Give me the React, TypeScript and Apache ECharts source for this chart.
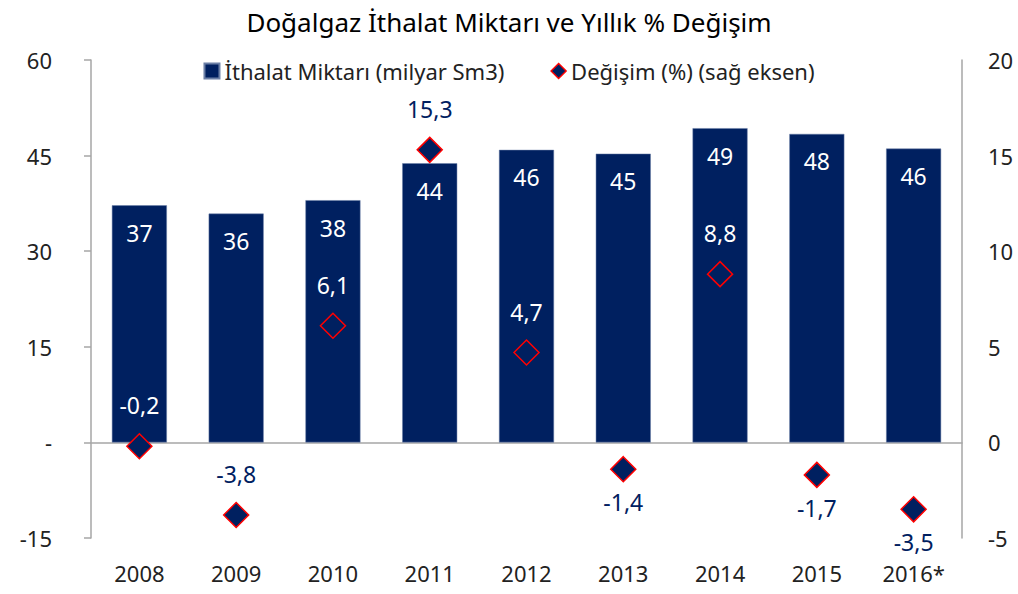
import React, { useEffect, useRef } from "react";
import * as echarts from "echarts";

const years = ["2008", "2009", "2010", "2011", "2012", "2013", "2014", "2015", "2016*"];
const imports = [37.2, 35.9, 38.0, 43.8, 45.9, 45.3, 49.3, 48.4, 46.1];
const changes = [-0.2, -3.8, 6.1, 15.3, 4.7, -1.4, 8.8, -1.7, -3.5];
const changeLabelPos = ["top", "top", "top", "top", "top", "bottom", "top", "bottom", "bottom"];
const changeLabelOnBar = [true, false, true, false, true, false, true, false, false];
const leftTicks = [-15, 0, 15, 30, 45, 60];
const rightTicks = [-5, 0, 5, 10, 15, 20];

const NAVY = "#002060";
const FONT = "'Noto Sans', sans-serif";

export default function App() {
  const ref = useRef<HTMLDivElement>(null);
  useEffect(() => {
    const chart = echarts.init(ref.current!, null, { renderer: "svg" });
    chart.setOption({
      animation: false,
      title: {
        text: "Doğalgaz İthalat Miktarı ve Yıllık % Değişim",
        left: "center",
        top: 4,
        textStyle: { fontFamily: FONT, fontSize: 26, fontWeight: "normal", color: "#000" },
      },
      legend: {
        top: 55,
        left: "center",
        itemGap: 46,
        itemWidth: 15,
        itemHeight: 15,
        textStyle: { fontFamily: FONT, fontSize: 22, color: "#222" },
        data: [
          { name: "İthalat Miktarı (milyar Sm3)", icon: "rect" },
          {
            name: "Değişim (%) (sağ eksen)",
            icon: "diamond",
            itemStyle: { color: NAVY, borderColor: "#ff0000", borderWidth: 1.5 },
          },
        ],
      },
      grid: { left: 91, right: 56, top: 60, bottom: 56, containLabel: false },
      xAxis: [
        {
          type: "category",
          data: years,
          position: "bottom",
          axisLine: { onZero: false, show: false },
          axisTick: { show: false },
          axisLabel: { fontFamily: FONT, fontSize: 22, color: "#222", margin: 24 },
        },
        {
          type: "category",
          data: years,
          position: "bottom",
          axisLine: { onZero: true, onZeroAxisIndex: 0, lineStyle: { color: "#A6A6A6", width: 1.5 } },
          axisTick: { show: false },
          axisLabel: { show: false },
        },
      ],
      yAxis: [
        {
          type: "value",
          min: leftTicks[0],
          max: leftTicks[leftTicks.length - 1],
          interval: 15,
          splitLine: { show: false },
          axisLine: { show: true, lineStyle: { color: "#A6A6A6", width: 1.5 } },
          axisTick: { show: true, length: 7, lineStyle: { color: "#A6A6A6", width: 1.5 } },
          axisLabel: {
            fontFamily: FONT,
            fontSize: 22,
            color: "#222",
            margin: 39,
            formatter: (v: number) => (v === 0 ? "-" : String(v)),
          },
        },
        {
          type: "value",
          min: rightTicks[0],
          max: rightTicks[rightTicks.length - 1],
          interval: 5,
          splitLine: { show: false },
          axisLine: { show: true, lineStyle: { color: "#A6A6A6", width: 1.5 } },
          axisTick: { show: false },
          axisLabel: { fontFamily: FONT, fontSize: 22, color: "#222", margin: 26 },
        },
      ],
      series: [
        {
          name: "İthalat Miktarı (milyar Sm3)",
          type: "bar",
          xAxisIndex: 0,
          yAxisIndex: 0,
          data: imports,
          barWidth: 55,
          itemStyle: { color: NAVY, borderColor: "#6b7fa6", borderWidth: 0.5 },
          label: {
            show: true,
            position: "insideTop",
            distance: 16,
            color: "#fff",
            fontFamily: FONT,
            fontSize: 23,
            formatter: (p: any) => String(Math.round(p.value)),
          },
        },
        {
          name: "Değişim (%) (sağ eksen)",
          type: "scatter",
          xAxisIndex: 0,
          yAxisIndex: 1,
          symbol: "diamond",
          symbolSize: 25,
          itemStyle: { color: NAVY, borderColor: "#ff0000", borderWidth: 1.5, opacity: 1 },
          z: 5,
          data: changes.map((v, i) => ({
            value: v,
            label: {
              show: true,
              position: changeLabelPos[i],
              distance: changeLabelPos[i] === "top" ? 16 : 8,
              color: changeLabelOnBar[i] ? "#fff" : NAVY,
              fontFamily: FONT,
              fontSize: 23,
              formatter: () => v.toFixed(1).replace(".", ","),
            },
          })),
        },
      ],
    });
    return () => chart.dispose();
  }, []);
  return (
    <div
      ref={ref}
      style={{ position: "absolute", left: 0, top: 0, width: 1018, height: 594 }}
    />
  );
}
